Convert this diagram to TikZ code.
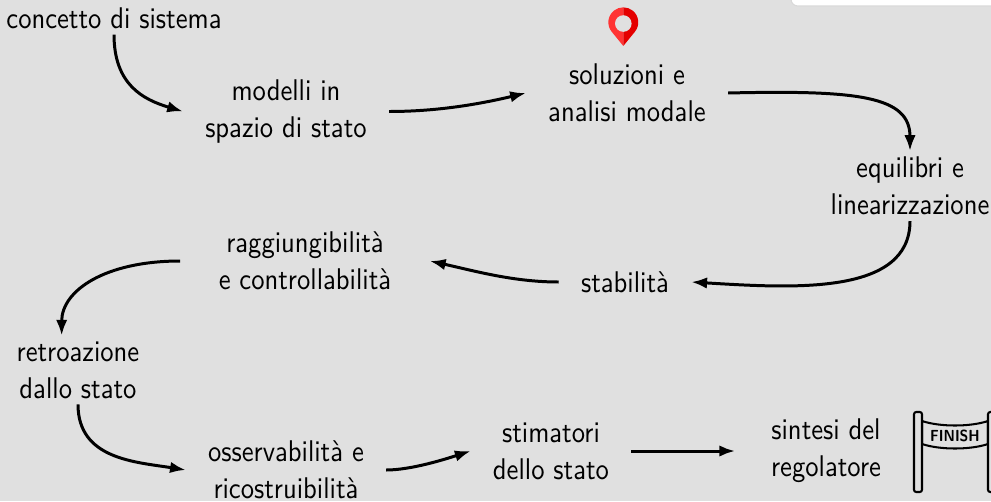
\documentclass[tikz,border=0pt]{standalone}
\usepackage{fontspec}
\setsansfont{lmsans10-regular.otf}[BoldFont=lmsans10-bold.otf, FakeStretch=0.89]
\usetikzlibrary{arrows.meta}
\usetikzlibrary{positioning}
\definecolor{slidebg}{RGB}{224,224,224}
\definecolor{pinlight}{RGB}{255,51,51}
\definecolor{pindark}{RGB}{228,0,0}

\begin{document}
\begin{tikzpicture}[x=0.3676pt, y=-0.3676pt,
  topic/.style={font=\sffamily\fontsize{11}{13.6}\selectfont, align=center, inner xsep=8pt, inner ysep=2pt},
  flow/.style={-{Latex[length=5.8pt,width=4.2pt]}, line width=1.1pt}]
\fill[slidebg] (0,0) rectangle (991,501);
\useasboundingbox (0,0) rectangle (991,501);
\filldraw[fill=white, draw=black!15, rounded corners=2.5pt] (791,-10) rectangle (1000,6);

\node[topic] (concetto) at (114,18) {concetto di sistema};
\node[topic] (modelli) at (286,111.5) {modelli in\\spazio di stato};
\node[topic] (soluzioni) at (627,93) {soluzioni e\\analisi modale};
\node[topic] (equilibri) at (910,186) {equilibri e\\linearizzazione};
\node[topic] (stabilita) at (625,282) {stabilità};
\node[topic, inner xsep=14pt] (raggiung) at (305,261) {raggiungibilità\\e controllabilità};
\node[topic] (retroazione) at (78,370) {retroazione\\dallo stato};
\node[topic] (osserv) at (286,470) {osservabilità e\\ricostruibilità};
\node[topic] (stimatori) at (551,451) {stimatori\\dello stato};
\node[topic, inner xsep=13pt] (sintesi) at (826,451) {sintesi del\\regolatore};

\draw[flow] (concetto.south) .. controls +(0,50) and +(-40,-12) .. (modelli.west);
\draw[flow] (modelli.east) .. controls +(45,0) and +(-50,12) .. (soluzioni.west);
\draw[flow] (soluzioni.east) .. controls +(130,-3) and +(0,-55) .. (equilibri.north);
\draw[flow] (equilibri.south) .. controls +(0,75) and +(100,6) .. (stabilita.east);
\draw[flow] (stabilita.west) .. controls +(-45,0) and +(45,10) .. (raggiung.east);
\draw[flow] (raggiung.west) .. controls +(-75,0) and +(0,-45) .. ([xshift=-6pt]retroazione.north);
\draw[flow] (retroazione.south) .. controls +(0,55) and +(-50,-8) .. (osserv.west);
\draw[flow] (osserv.east) .. controls +(25,0) and +(-25,8) .. (stimatori.west);
\draw[flow] (stimatori.east) -- (stimatori.east -| sintesi.west);

\begin{scope}[shift={(623.3,22.3)}, x=1pt, y=1pt]
\fill[pinlight] (0,-8.7) -- (219.2:5.5) arc (219.2:90:5.5) -- cycle;
\fill[pindark] (0,-8.7) -- (-39.2:5.5) arc (-39.2:90:5.5) -- cycle;
\fill[slidebg] (0,-0.45) circle (3.05);
\end{scope}

\begin{scope}[line width=0.75pt]
\filldraw[fill=slidebg] (922,421) .. controls (940,427) and (970,427) .. (988,421)
  -- (988,444) .. controls (970,450) and (940,450) .. (922,444) -- cycle;
\node[font=\sffamily\bfseries\fontsize{5.9}{6}\selectfont, inner sep=0pt] (finish) at (955,436) {FINISH};
\filldraw[fill=slidebg, rounded corners=0.8pt] (914,412) rectangle (922,492);
\filldraw[fill=slidebg, rounded corners=0.8pt] (988,412) rectangle (996,492);
\end{scope}
\end{tikzpicture}
\end{document}
